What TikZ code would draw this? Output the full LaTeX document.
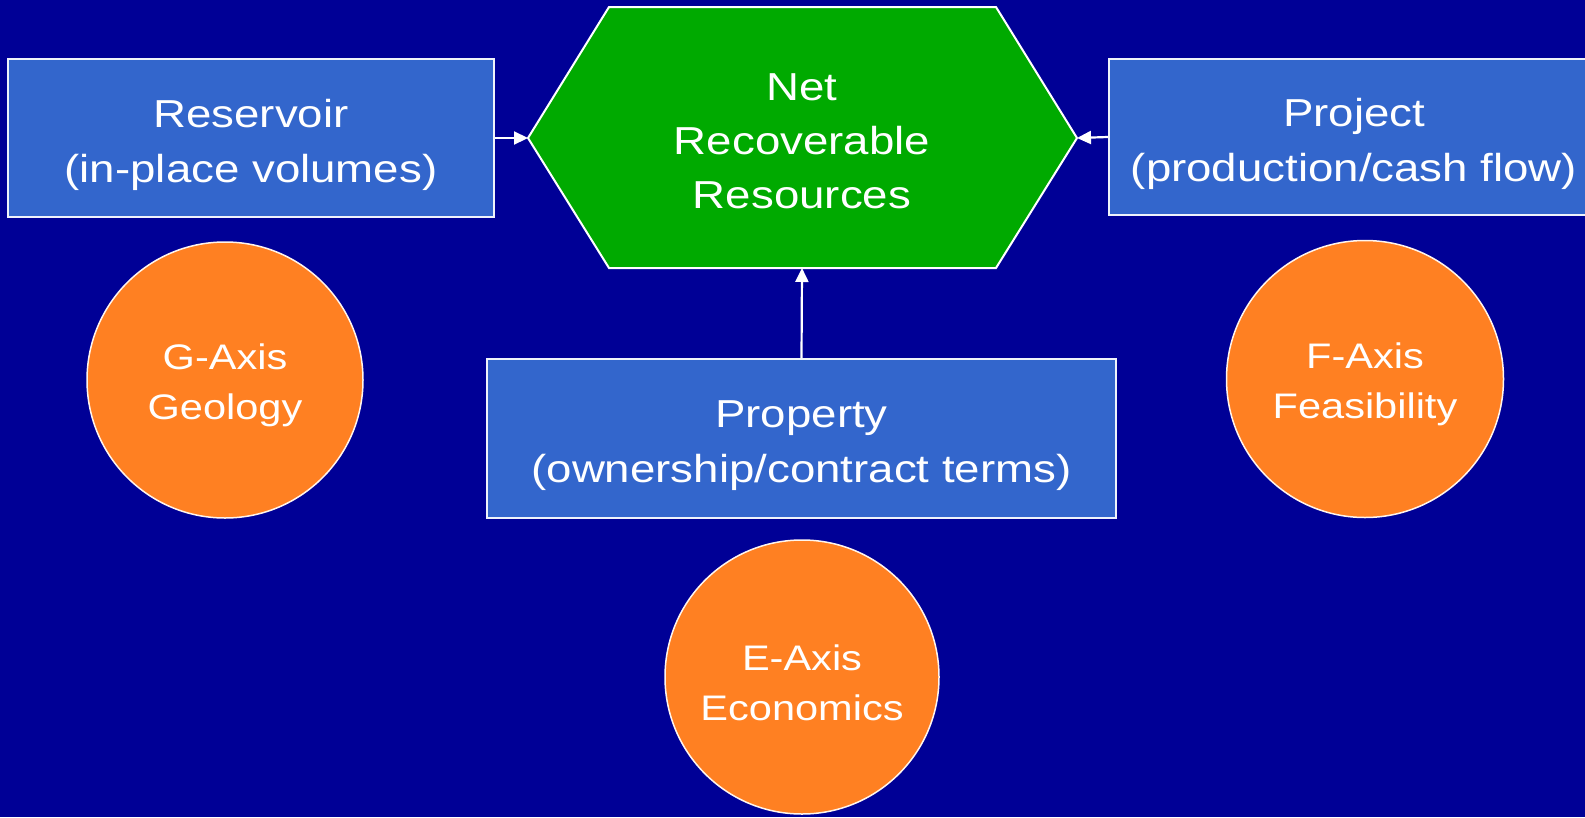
\documentclass[tikz,border=0pt]{standalone}
\usepackage{fontspec}
\setmainfont{Liberation Sans}
\newfontfamily\widefont[FakeStretch=1.17]{Liberation Sans}
\usetikzlibrary{arrows.meta}
\definecolor{bgnavy}{RGB}{0,0,150}
\definecolor{boxblue}{RGB}{51,102,204}
\definecolor{hexgreen}{RGB}{0,170,0}
\definecolor{axisorange}{RGB}{255,128,34}
\tikzset{
  x=1pt, y=-1pt,
  bluebox/.style={draw=white!92!boxblue, line width=2pt, fill=boxblue, inner sep=0pt},
  boxtext/.style={text=white, align=center, inner sep=0pt,
    font=\widefont\fontsize{39}{55}\selectfont},
  axiscirc/.style={circle, draw=white!92!axisorange, line width=1.5pt, fill=axisorange,
    inner sep=0pt},
  circtext/.style={text=white, align=center, inner sep=0pt,
    font=\widefont\fontsize{35.5}{50}\selectfont},
  hexshape/.style={draw=white, line width=2pt, fill=hexgreen},
  flow/.style={draw=white, line width=2.2pt, -{Triangle[length=14pt,width=13pt]}},
}
\begin{document}
\begin{tikzpicture}
\useasboundingbox (0,0) rectangle (1585,817);
\clip (0,0) rectangle (1585,817);
\fill[bgnavy] (0,0) rectangle (1585,817);

% hexagon
\path[hexshape] (528,138) coordinate (hexL) -- (609,7) -- (996,7)
  -- (1077,138) coordinate (hexR) -- (996,268) -- (802,268) coordinate (hexB)
  -- (609,268) -- cycle;
\node[boxtext, font=\widefont\fontsize{39}{54}\selectfont] (net) at (802,141)
  {Net\\Recoverable\\Resources};

% boxes
\node[bluebox, minimum width=486, minimum height=158] (res) at (251,138) {};
\node[boxtext] (restext) at (251,145) {Reservoir\\(in-place volumes)};
\node[bluebox, minimum width=490, minimum height=156] (proj) at (1354,137) {};
\node[boxtext] (projtext) at (1354,144) {Project\\(production/cash flow)};
\node[bluebox, minimum width=629, minimum height=159] (prop) at (801.5,438.5) {};
\node[boxtext] (proptext) at (801.5,445.5) {Property\\(ownership/contract terms)};

% axis circles
\node[axiscirc, minimum size=276] (gax) at (225,380) {};
\node[circtext] (gaxtext) at (225,385) {G-Axis\\Geology};
\node[axiscirc, minimum size=277] (fax) at (1365,379) {};
\node[circtext] (faxtext) at (1365,384) {F-Axis\\Feasibility};
\node[axiscirc, minimum size=274] (eax) at (802,677) {};
\node[circtext] (eaxtext) at (802,683) {E-Axis\\Economics};

% connectors
\draw[flow] (res.east) -- (hexL);
\draw[flow] (proj.west) -- (hexR);
\draw[flow] (prop.north) -- (hexB);
\end{tikzpicture}
\end{document}
